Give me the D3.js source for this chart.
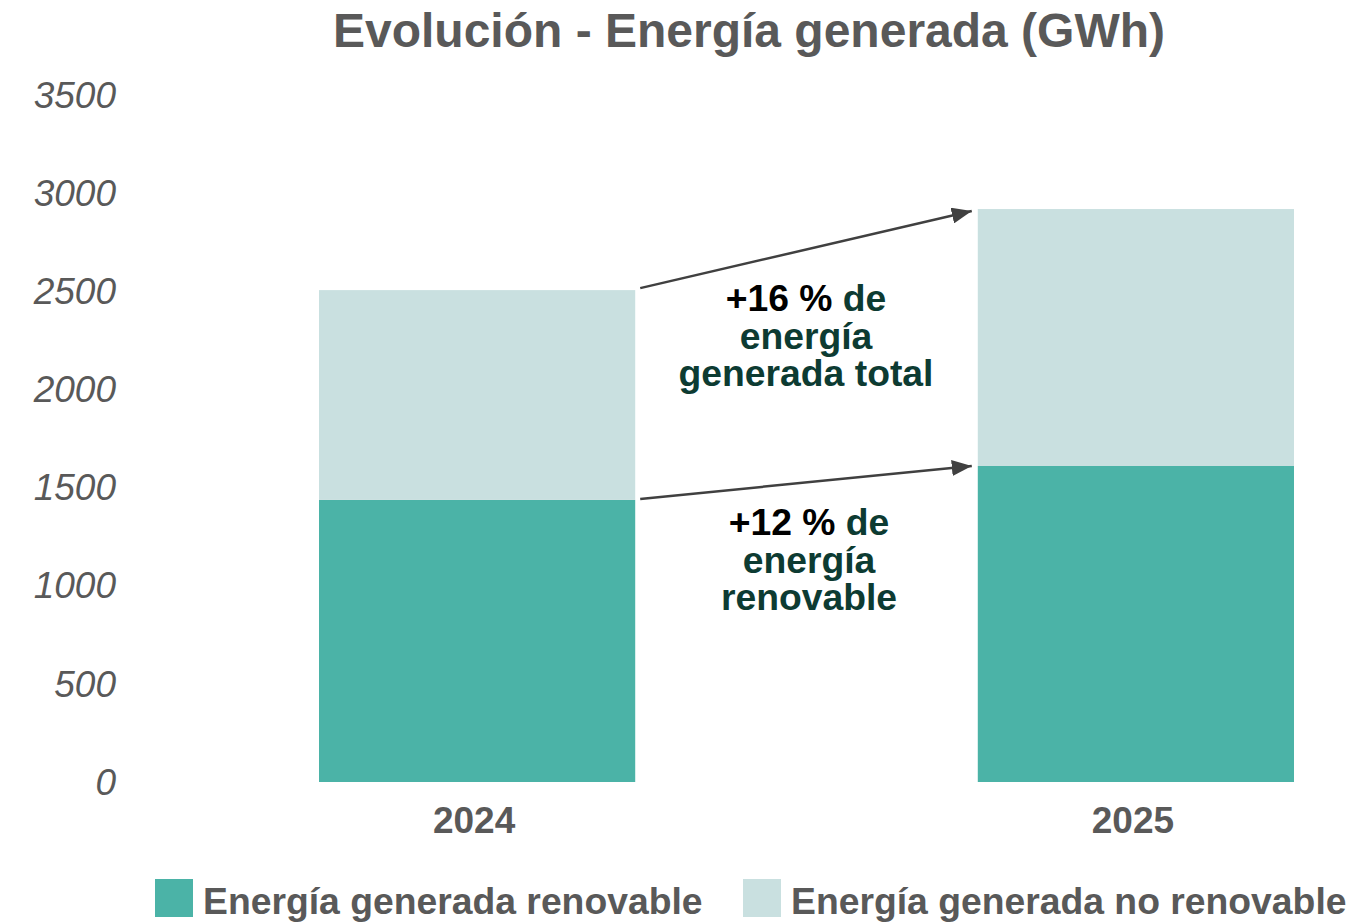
<!DOCTYPE html>
<html>
<head>
<meta charset="utf-8">
<script src="https://cdn.jsdelivr.net/npm/d3@7/dist/d3.min.js"></script>
<style>
  html, body { margin: 0; padding: 0; background: #ffffff; }
  svg { display: block; font-family: "Liberation Sans", Arial, sans-serif; }
</style>
</head>
<body>
<svg id="chart" width="1353" height="923"></svg>
<script>
const years = ["2024", "2025"];
const renovable = [1437, 1610];
const noRenovable = [1069, 1309];
const yTicks = [0, 500, 1000, 1500, 2000, 2500, 3000, 3500];
const seriesNames = ["Energía generada renovable", "Energía generada no renovable"];
const seriesColors = ["#4bb3a7", "#c9e0e0"];
const titleText = "Evolución - Energía generada (GWh)";
const annotTotal = [["+16 %", " de"], ["energía"], ["generada total"]];
const annotRenov = [["+12 %", " de"], ["energía"], ["renovable"]];

const svg = d3.select("#chart");
const grey = "#595959";
const green = "#0d3b32";

const x = d3.scaleBand().domain(years).range([319, 1294]).paddingInner(0.52).paddingOuter(0);
const y = d3.scaleLinear().domain([0, 3500]).range([782, 95]);

// title
svg.append("text").attr("x", 749).attr("y", 47).attr("text-anchor", "middle")
  .attr("font-size", 48).attr("font-weight", "bold").attr("fill", grey).text(titleText);

// y axis
const yAxis = d3.axisLeft(y).tickValues(yTicks).tickSize(0).tickPadding(0).tickFormat(d3.format("d"));
const gy = svg.append("g").attr("transform", "translate(116,0)").call(yAxis);
gy.select(".domain").remove();
gy.selectAll("text").attr("font-size", 37).attr("font-style", "italic")
  .attr("fill", grey).attr("font-family", "Liberation Sans, Arial, sans-serif").attr("dy", "0.33em");

// x axis
const xAxis = d3.axisBottom(x).tickSize(0).tickPadding(0);
const gx = svg.append("g").attr("transform", "translate(-3,0)").call(xAxis);
gx.select(".domain").remove();
gx.selectAll("text").attr("y", 833).attr("dy", 0).attr("font-size", 37).attr("font-weight", "bold")
  .attr("fill", grey).attr("font-family", "Liberation Sans, Arial, sans-serif");

// stacked bars
const data = years.map((yr, i) => ({ year: yr, ren: renovable[i], noren: noRenovable[i] }));
const stack = d3.stack().keys(["ren", "noren"])(data);
svg.append("g").selectAll("g").data(stack).join("g")
  .attr("fill", (d, i) => seriesColors[i])
  .selectAll("rect").data(d => d).join("rect")
  .attr("x", d => x(d.data.year))
  .attr("width", x.bandwidth())
  .attr("y", d => y(d[1]))
  .attr("height", d => y(d[0]) - y(d[1]));

// arrows
const defs = svg.append("defs");
defs.append("marker").attr("id", "arrow").attr("markerUnits", "userSpaceOnUse")
  .attr("viewBox", "0 0 20 16").attr("refX", 20).attr("refY", 8)
  .attr("markerWidth", 20).attr("markerHeight", 16).attr("orient", "auto")
  .append("path").attr("d", "M0,0 L20,8 L0,16 Z").attr("fill", "#404040");

const totals = data.map(d => d.ren + d.noren);
const x0 = x(years[0]) + x.bandwidth() + 5;
const x1 = x(years[1]) - 6;
svg.append("line").attr("x1", x0).attr("y1", y(totals[0]) - 2).attr("x2", x1).attr("y2", y(totals[1]) + 2)
  .attr("stroke", "#404040").attr("stroke-width", 2.5).attr("marker-end", "url(#arrow)");
svg.append("line").attr("x1", x0).attr("y1", y(renovable[0]) - 1).attr("x2", x1).attr("y2", y(renovable[1]))
  .attr("stroke", "#404040").attr("stroke-width", 2.5).attr("marker-end", "url(#arrow)");

function annot(lines, cx, baseline) {
  const t = svg.append("text").attr("text-anchor", "middle").attr("font-size", 37.3).attr("font-weight", "bold");
  lines.forEach((parts, i) => {
    parts.forEach((p, j) => {
      const ts = t.append("tspan").text(p)
        .attr("fill", (j === 0 && parts.length > 1) ? "#000000" : green);
      if (j === 0) ts.attr("x", cx).attr("y", baseline + i * 37.5);
    });
  });
}
annot(annotTotal, 806, 311);
annot(annotRenov, 809, 535);

// legend
const legX = [155, 743];
seriesNames.forEach((n, i) => {
  svg.append("rect").attr("x", legX[i]).attr("y", 879).attr("width", 38).attr("height", 38).attr("fill", seriesColors[i]);
  svg.append("text").attr("x", legX[i] + 48).attr("y", 914).attr("font-size", 37.3).attr("font-weight", "bold")
    .attr("fill", grey).text(n);
});
</script>
</body>
</html>
